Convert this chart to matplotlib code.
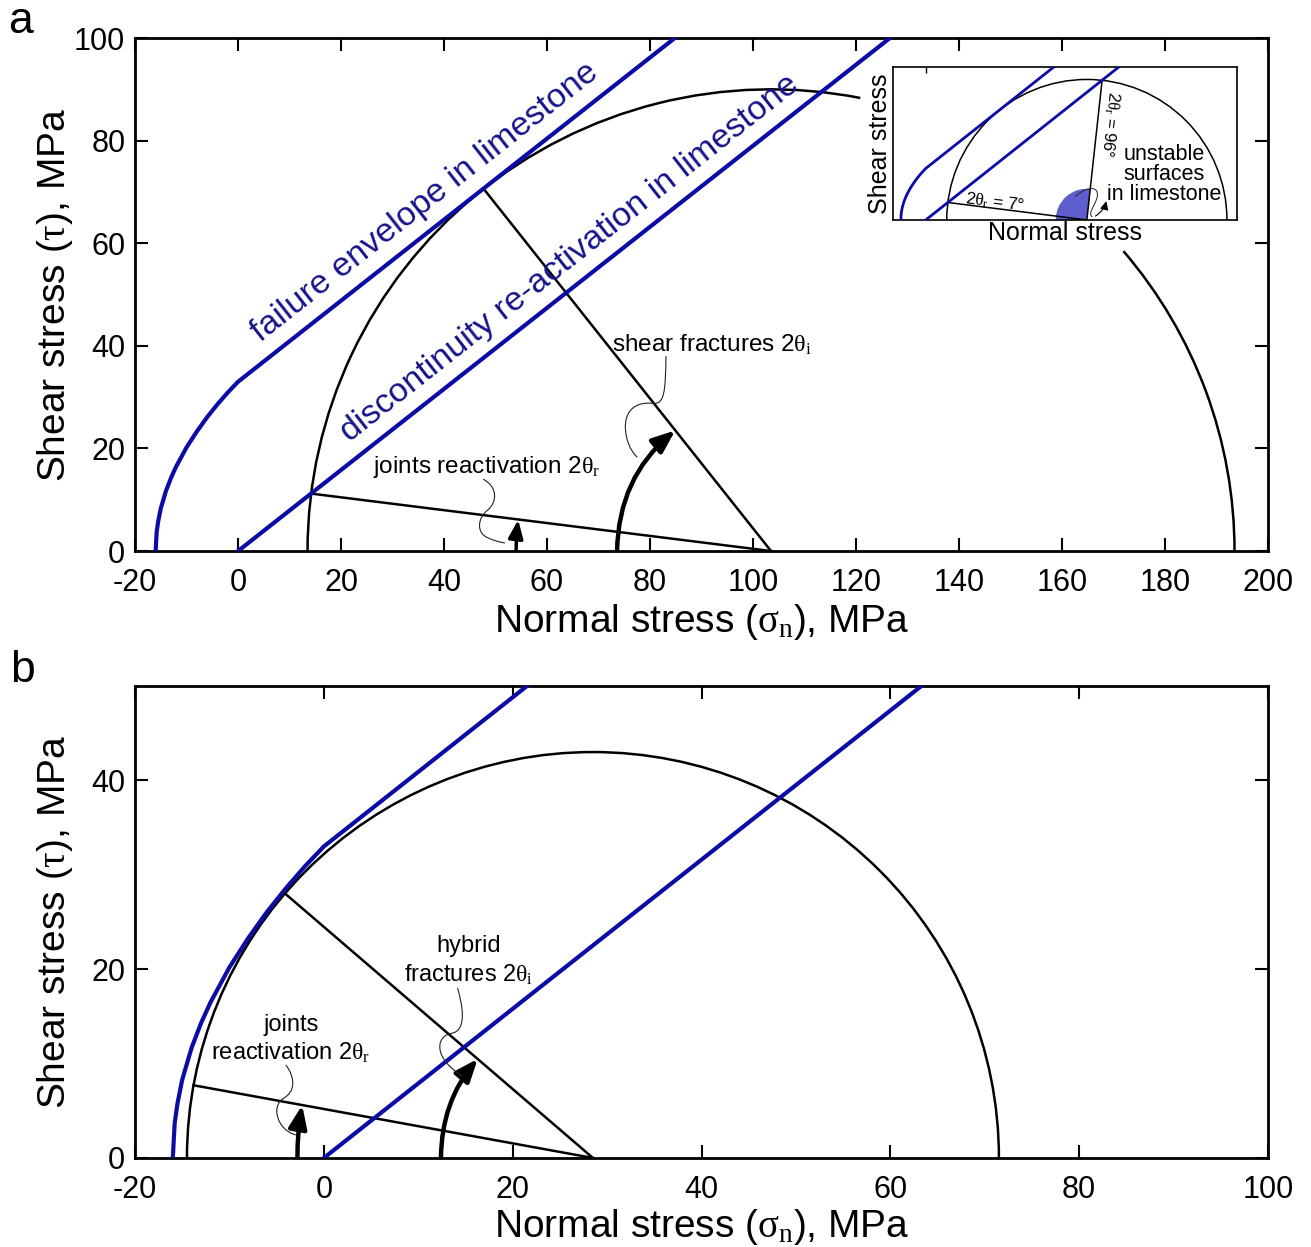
import numpy as np
import matplotlib.pyplot as plt
from matplotlib.patches import Arc, Wedge, FancyArrowPatch, PathPatch
from matplotlib.path import Path

plt.rcParams['font.family'] = ['Liberation Sans', 'DejaVu Sans']
plt.rcParams['mathtext.fontset'] = 'custom'
plt.rcParams['mathtext.rm'] = 'Liberation Serif'
plt.rcParams['mathtext.it'] = 'Liberation Serif'
plt.rcParams['mathtext.bf'] = 'Liberation Serif:bold'
plt.rcParams['axes.unicode_minus'] = False

# failure envelope in limestone (normal stress, shear stress), MPa
env_sn = [-16, -15.8, -15.5, -15, -14, -13, -12, -10, -8, -6, -4, -2, 0, 140]
env_tau = [0, 3.7, 5.8, 8.3, 11.7, 14.3, 16.5, 20.2, 23.3, 26.1, 28.6, 30.9, 33, 143.6]
# discontinuity re-activation line
disc_sn = [0, 140]
disc_tau = [0, 110.6]

# panel a: Mohr circle and planes
a_center, a_radius = 103.5, 90.0
a_joint_end = (14.2, 11.2)
a_shear_end = (47.7, 70.6)
a_disc_upper = (113.3, 89.5)
a_hidden = (40.5, 78.9)          # arc angles hidden behind the inset
a_arrow_joint = [(54.0, 0.0), (54.4, 6.1)]
a_arrow_shear = [(73.6, 0.0), (84.9, 23.5)]
a_xticks = list(range(-20, 201, 20))
a_yticks = list(range(0, 101, 20))

# panel b
b_center, b_radius = 28.5, 43.0
b_joint_end = (-13.8, 7.7)
b_hybrid_end = (-4.1, 28.0)
b_arrow_joint = [(-2.8, 0.0), (-2.3, 5.6)]
b_arrow_hybrid = [(12.4, 0.0), (16.3, 10.5)]
b_xticks = list(range(-20, 101, 20))
b_yticks = [0, 20, 40]

BLUE = '#0b0ba6'
TXTBLUE = '#14148c'
XLAB = r'Normal stress ($\sigma_\mathrm{n}$), MPa'
YLAB = r'Shear stress ($\tau$), MPa'

slope = (disc_tau[1] - disc_tau[0]) / (disc_sn[1] - disc_sn[0])
slope_deg = np.degrees(np.arctan(slope))


def style_axes(ax, xlim, ylim, xticks, yticks):
    ax.set_xlim(*xlim)
    ax.set_ylim(*ylim)
    ax.set_xticks(xticks)
    ax.set_yticks(yticks)
    ax.tick_params(direction='in', length=9.5, width=1.5, top=True, right=True,
                   labelsize=22)
    ax.tick_params(axis='x', pad=12)
    ax.tick_params(axis='y', pad=7)
    for s in ax.spines.values():
        s.set_linewidth(2)
    ax.set_xlabel(XLAB, fontsize=28)
    ax.set_ylabel(YLAB, fontsize=28)


def leader(ax, pts, lw=0.8):
    codes = [Path.MOVETO] + [Path.CURVE4] * (len(pts) - 1)
    ax.add_patch(PathPatch(Path(pts, codes), fill=False, lw=lw, color='#222222', zorder=4))


def arc_arrow(ax, pts, rad, lw=3.2, ms=25):
    ax.add_patch(FancyArrowPatch(pts[0], pts[1], connectionstyle=f'arc3,rad={rad}',
                                 arrowstyle='-|>,head_length=0.55,head_width=0.22',
                                 mutation_scale=ms, lw=lw, color='k',
                                 shrinkA=0, shrinkB=0, zorder=4))


fig = plt.figure(figsize=(13.11, 12.47), dpi=100)
ax_a = fig.add_axes([0.1030, 0.5581, 0.8642, 0.4114])
ax_b = fig.add_axes([0.1030, 0.0714, 0.8642, 0.3785])

# ---------------- panel a ----------------
style_axes(ax_a, (-20, 200), (0, 100), a_xticks, a_yticks)
ax_a.plot(env_sn, env_tau, color=BLUE, lw=3, zorder=3)
ax_a.plot(disc_sn, disc_tau, color=BLUE, lw=3, zorder=3)
ax_a.add_patch(Arc((a_center, 0), 2 * a_radius, 2 * a_radius, theta1=0, theta2=a_hidden[0],
                   lw=1.8, color='k'))
ax_a.add_patch(Arc((a_center, 0), 2 * a_radius, 2 * a_radius, theta1=a_hidden[1], theta2=180,
                   lw=1.8, color='k'))
ax_a.plot([a_center, a_joint_end[0]], [0, a_joint_end[1]], color='k', lw=1.8)
ax_a.plot([a_center, a_shear_end[0]], [0, a_shear_end[1]], color='k', lw=1.8)
arc_arrow(ax_a, a_arrow_joint, -0.03, lw=2.5, ms=20)
arc_arrow(ax_a, a_arrow_shear, -0.23)

ax_a.text(4.3, 40.7, 'failure envelope in limestone', color=TXTBLUE, fontsize=24.5,
          rotation=slope_deg, rotation_mode='anchor', transform_rotates_text=True,
          ha='left', va='baseline')
ax_a.text(21.7, 21.2, 'discontinuity re-activation in limestone', color=TXTBLUE, fontsize=24.5,
          rotation=slope_deg, rotation_mode='anchor', transform_rotates_text=True,
          ha='left', va='baseline')
ax_a.text(72.6, 38.85, r'shear fractures 2$\theta_\mathrm{i}$', fontsize=17.5,
          ha='left', va='baseline')
ax_a.text(26.3, 15.15, r'joints reactivation 2$\theta_\mathrm{r}$', fontsize=17.5,
          ha='left', va='baseline')
leader(ax_a, [(83.1, 38.0), (83.0, 31.0), (82.8, 28.5), (80.5, 28.8),
              (76.0, 29.2), (74.5, 26.0), (75.5, 22.0),
              (76.0, 20.0), (76.8, 19.0), (77.5, 18.3)])
leader(ax_a, [(47.6, 14.0), (50.5, 12.5), (50.3, 9.5), (48.5, 8.0),
              (46.5, 6.5), (46.2, 3.5), (48.5, 2.6),
              (49.5, 2.1), (50.8, 1.7), (51.8, 1.6)])
ax_a.yaxis.set_label_coords(-0.053, 0.5)
ax_a.xaxis.set_label_coords(0.5, -0.1)

# inset in panel a
ax_in = fig.add_axes([0.6812, 0.8236, 0.2624, 0.1227], zorder=3)
ax_in.set_xlim(-21, 200)
ax_in.set_ylim(0, 98)
ax_in.set_xticks([0])
ax_in.set_yticks([])
ax_in.tick_params(axis='x', top=True, bottom=False, labelbottom=False, direction='in',
                  length=4, width=1)
for s in ax_in.spines.values():
    s.set_linewidth(1.2)
ax_in.plot(env_sn, env_tau, color=BLUE, lw=2, zorder=3)
ax_in.plot(disc_sn, disc_tau, color=BLUE, lw=2, zorder=3)
ax_in.add_patch(Arc((a_center, 0), 2 * a_radius, 2 * a_radius, theta1=0, theta2=180,
                    lw=1.1, color='k'))
upper_deg = np.degrees(np.arctan2(a_disc_upper[1], a_disc_upper[0] - a_center))
ax_in.add_patch(Wedge((a_center, 0), 20, upper_deg, 180, color='#5e5ecf', lw=0, zorder=2))
ax_in.plot([a_center, a_joint_end[0]], [0, a_joint_end[1]], color='k', lw=1.1)
ax_in.plot([a_center, a_disc_upper[0]], [0, a_disc_upper[1]], color='k', lw=1.1)
joint_deg = np.degrees(np.arctan2(a_joint_end[1], a_joint_end[0] - a_center)) - 180
ax_in.text(25.2, 10.6, r'2$\theta_\mathrm{r}$ = 7°', fontsize=12.5, rotation=joint_deg,
           rotation_mode='anchor', ha='left', va='baseline')
ax_in.text(114.2, 83, r'2$\theta_\mathrm{r}$ = 96°', fontsize=12, rotation=upper_deg - 180,
           rotation_mode='anchor', ha='left', va='bottom')
ax_in.text(153, 29, 'unstable\nsurfaces\nin limestone', fontsize=15.5, ha='center',
           va='center', linespacing=0.92)
leader(ax_in, [(96, 15), (104, 22), (112, 22), (110, 14),
               (108, 8), (104, 4), (107, 2)], lw=0.7)
ax_in.add_patch(FancyArrowPatch((109, 2.5), (116, 12), connectionstyle='arc3,rad=0.2',
                                arrowstyle='-|>,head_length=0.5,head_width=0.25',
                                mutation_scale=10, lw=0.8, color='k', shrinkA=0, shrinkB=0))
ax_in.set_xlabel('Normal stress', fontsize=18, labelpad=1)
ax_in.set_ylabel('Shear stress', fontsize=18, labelpad=1)

# ---------------- panel b ----------------
style_axes(ax_b, (-20, 100), (0, 50), b_xticks, b_yticks)
ax_b.plot(env_sn, env_tau, color=BLUE, lw=3, zorder=3)
ax_b.plot(disc_sn, disc_tau, color=BLUE, lw=3, zorder=3)
ax_b.add_patch(Arc((b_center, 0), 2 * b_radius, 2 * b_radius, theta1=0, theta2=180,
                   lw=1.8, color='k'))
ax_b.plot([b_center, b_joint_end[0]], [0, b_joint_end[1]], color='k', lw=1.8)
ax_b.plot([b_center, b_hybrid_end[0]], [0, b_hybrid_end[1]], color='k', lw=1.8)
arc_arrow(ax_b, b_arrow_joint, -0.045)
arc_arrow(ax_b, b_arrow_hybrid, -0.18)
ax_b.text(15.3, 20.9, 'hybrid\n' + r'fractures 2$\theta_\mathrm{i}$', fontsize=17,
          ha='center', va='center', linespacing=1.3)
ax_b.text(-3.5, 12.5, 'joints\n' + r'reactivation 2$\theta_\mathrm{r}$', fontsize=17,
          ha='center', va='center', linespacing=1.25)
leader(ax_b, [(14.16, 17.98), (14.6, 16.5), (15.3, 13.5), (13.5, 13.2),
              (11.8, 12.9), (11.6, 10.5), (14.69, 8.69)])
leader(ax_b, [(-4.03, 9.85), (-3.0, 8.5), (-3.0, 7.0), (-4.3, 6.3),
              (-5.6, 5.5), (-5.0, 3.0), (-2.97, 2.44)])
ax_b.yaxis.set_label_coords(-0.053, 0.5)
ax_b.xaxis.set_label_coords(0.5, -0.103)

fig.text(0.006, 0.9735, 'a', fontsize=32, ha='left', va='baseline')
fig.text(0.0076, 0.453, 'b', fontsize=32, ha='left', va='baseline')

fig.savefig('out.png', dpi=100)
